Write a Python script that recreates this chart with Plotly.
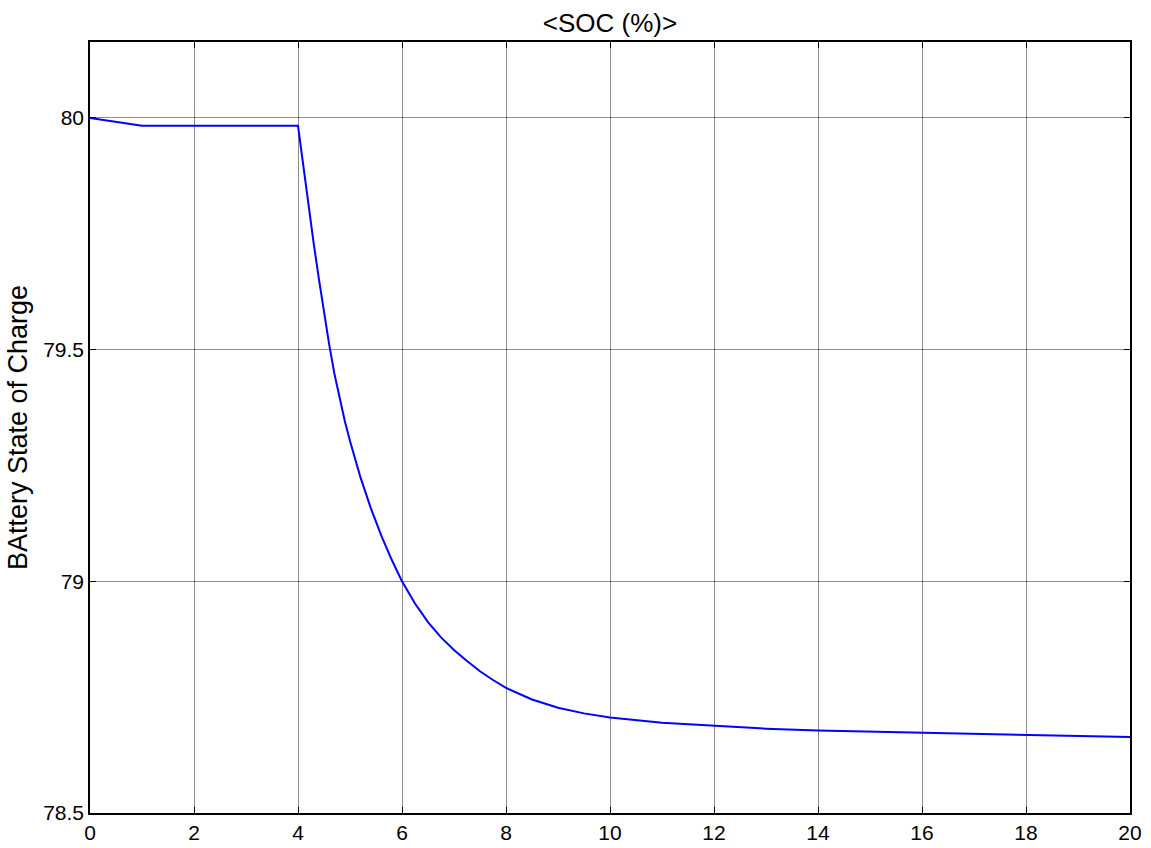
import plotly.graph_objects as go

time_s = [0, 1, 4, 4.1, 4.2, 4.3, 4.4, 4.5, 4.6, 4.7, 4.8, 4.9, 5.0, 5.2, 5.4, 5.6, 5.8,
          6.0, 6.25, 6.5, 6.75, 7.0, 7.25, 7.5, 7.75, 8.0, 8.5, 9.0, 9.5, 10, 11, 12,
          13, 14, 16, 18, 20]
soc = [80.0, 79.983, 79.983, 79.895, 79.811, 79.731, 79.654, 79.58, 79.511, 79.448,
       79.394, 79.346, 79.303, 79.225, 79.158, 79.099, 79.047, 79.0, 78.952, 78.912,
       78.879, 78.852, 78.828, 78.806, 78.787, 78.770, 78.745, 78.727, 78.715, 78.706,
       78.695, 78.688, 78.682, 78.678, 78.673, 78.668, 78.664]

x_ticks = [0, 2, 4, 6, 8, 10, 12, 14, 16, 18, 20]
y_ticks = [78.5, 79, 79.5, 80]
y_tick_text = ["78.5", "79", "79.5", "80"]

FONT = "Liberation Sans, Arial, sans-serif"

fig = go.Figure()
fig.add_trace(go.Scatter(x=time_s, y=soc, mode="lines",
                         line=dict(color="#0000FF", width=2), showlegend=False))

axis_common = dict(showline=True, linecolor="black", linewidth=1.5, mirror="ticks",
                   ticks="inside", ticklen=6, tickcolor="black", tickwidth=1.2,
                   showgrid=True, gridcolor="rgba(0,0,0,0.45)", gridwidth=1,
                   zeroline=False, tickfont=dict(family=FONT, size=21, color="black"))

fig.update_xaxes(range=[0, 20], tickvals=x_ticks, ticktext=[str(v) for v in x_ticks],
                 automargin=False, **axis_common)
fig.update_yaxes(range=[78.5, 80.164], tickvals=y_ticks, ticktext=y_tick_text,
                 automargin=False,
                 title=dict(text="BAttery State of Charge",
                            font=dict(family=FONT, size=27, color="black"), standoff=8),
                 **axis_common)

fig.update_layout(
    width=1151, height=848,
    margin=dict(l=90, r=21, t=42, b=35),
    paper_bgcolor="white", plot_bgcolor="white",
    title=dict(text="&lt;SOC (%)&gt;", x=0.5, xref="paper", xanchor="center",
               y=1 - 22.5 / 848, yref="container", yanchor="middle",
               font=dict(family=FONT, size=26, color="black")),
)

fig.write_html("out.html")
